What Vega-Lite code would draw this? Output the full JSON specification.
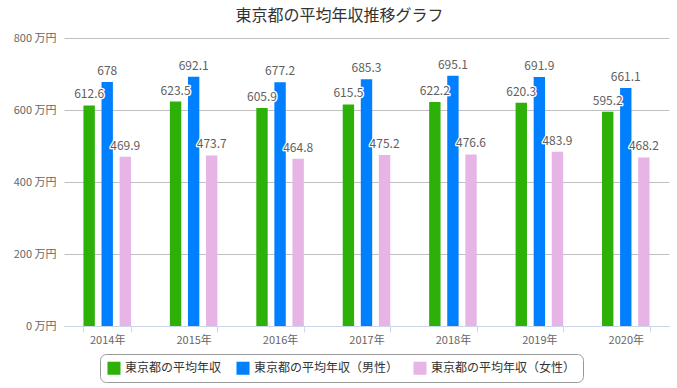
{
  "$schema": "https://vega.github.io/schema/vega-lite/v6.json",
  "width": 605,
  "height": 288,
  "autosize": {"type": "none"},
  "padding": {"left": 64, "top": 38, "right": 8, "bottom": 62},
  "background": "white",
  "title": {
    "text": "東京都の平均年収推移グラフ",
    "fontSize": 16,
    "font": "Noto Sans CJK JP",
    "fontWeight": "normal",
    "color": "#333333",
    "anchor": "middle",
    "dx": -27,
    "offset": 8
  },
  "config": {
    "view": {"stroke": null},
    "font": "Noto Sans CJK JP"
  },
  "data": {
    "values": [
      {"year": "2014年", "series": "東京都の平均年収", "value": 612.6},
      {"year": "2014年", "series": "東京都の平均年収（男性）", "value": 678},
      {"year": "2014年", "series": "東京都の平均年収（女性）", "value": 469.9},
      {"year": "2015年", "series": "東京都の平均年収", "value": 623.5},
      {"year": "2015年", "series": "東京都の平均年収（男性）", "value": 692.1},
      {"year": "2015年", "series": "東京都の平均年収（女性）", "value": 473.7},
      {"year": "2016年", "series": "東京都の平均年収", "value": 605.9},
      {"year": "2016年", "series": "東京都の平均年収（男性）", "value": 677.2},
      {"year": "2016年", "series": "東京都の平均年収（女性）", "value": 464.8},
      {"year": "2017年", "series": "東京都の平均年収", "value": 615.5},
      {"year": "2017年", "series": "東京都の平均年収（男性）", "value": 685.3},
      {"year": "2017年", "series": "東京都の平均年収（女性）", "value": 475.2},
      {"year": "2018年", "series": "東京都の平均年収", "value": 622.2},
      {"year": "2018年", "series": "東京都の平均年収（男性）", "value": 695.1},
      {"year": "2018年", "series": "東京都の平均年収（女性）", "value": 476.6},
      {"year": "2019年", "series": "東京都の平均年収", "value": 620.3},
      {"year": "2019年", "series": "東京都の平均年収（男性）", "value": 691.9},
      {"year": "2019年", "series": "東京都の平均年収（女性）", "value": 483.9},
      {"year": "2020年", "series": "東京都の平均年収", "value": 595.2},
      {"year": "2020年", "series": "東京都の平均年収（男性）", "value": 661.1},
      {"year": "2020年", "series": "東京都の平均年収（女性）", "value": 468.2}
    ]
  },
  "encoding": {
    "x": {
      "field": "year",
      "type": "nominal",
      "sort": null,
      "title": null,
      "scale": {"paddingInner": 0.45, "paddingOuter": 0.225},
      "axis": {
        "labelAngle": 0,
        "labelColor": "#666666",
        "labelFontSize": 11,
        "labelPadding": 2,
        "domainColor": "#ccd6eb",
        "tickColor": "#ccd6eb",
        "tickBand": "extent",
        "tickSize": 6,
        "grid": false
      }
    },
    "xOffset": {
      "field": "series",
      "type": "nominal",
      "sort": ["東京都の平均年収", "東京都の平均年収（男性）", "東京都の平均年収（女性）"],
      "scale": {"paddingInner": 0.37, "paddingOuter": 0}
    },
    "y": {
      "field": "value",
      "type": "quantitative",
      "title": null,
      "scale": {"domain": [0, 800], "nice": false},
      "axis": {
        "values": [0, 200, 400, 600, 800],
        "labelExpr": "datum.value + ' 万円'",
        "labelColor": "#666666",
        "labelFontSize": 11,
        "labelPadding": 8,
        "domain": false,
        "ticks": false,
        "gridColor": "#c0c0c0",
        "gridWidth": 1
      }
    }
  },
  "layer": [
    {
      "mark": {"type": "bar"},
      "encoding": {
        "color": {
          "field": "series",
          "type": "nominal",
          "scale": {
            "domain": ["東京都の平均年収", "東京都の平均年収（男性）", "東京都の平均年収（女性）"],
            "range": ["#2db007", "#0080ff", "#e6b5e6"]
          },
          "legend": {
            "title": null,
            "orient": "none",
            "legendX": 36,
            "legendY": 316,
            "direction": "horizontal",
            "symbolType": "square",
            "symbolSize": 170,
            "symbolStrokeWidth": 0,
            "labelFontSize": 12,
            "labelColor": "#333333",
            "labelLimit": 300,
            "columnPadding": 14,
            "strokeColor": "#999999",
            "cornerRadius": 6,
            "padding": 7
          }
        }
      }
    },
    {
      "mark": {"type": "text", "baseline": "bottom", "dy": -4, "fontSize": 12, "stroke": "white", "strokeWidth": 2.5, "strokeJoin": "round", "fill": "white"},
      "encoding": {
        "text": {"field": "value", "type": "quantitative", "format": "~f"}
      }
    },
    {
      "mark": {"type": "text", "baseline": "bottom", "dy": -4, "fontSize": 12, "fill": "#606060"},
      "encoding": {
        "text": {"field": "value", "type": "quantitative", "format": "~f"}
      }
    }
  ]
}
